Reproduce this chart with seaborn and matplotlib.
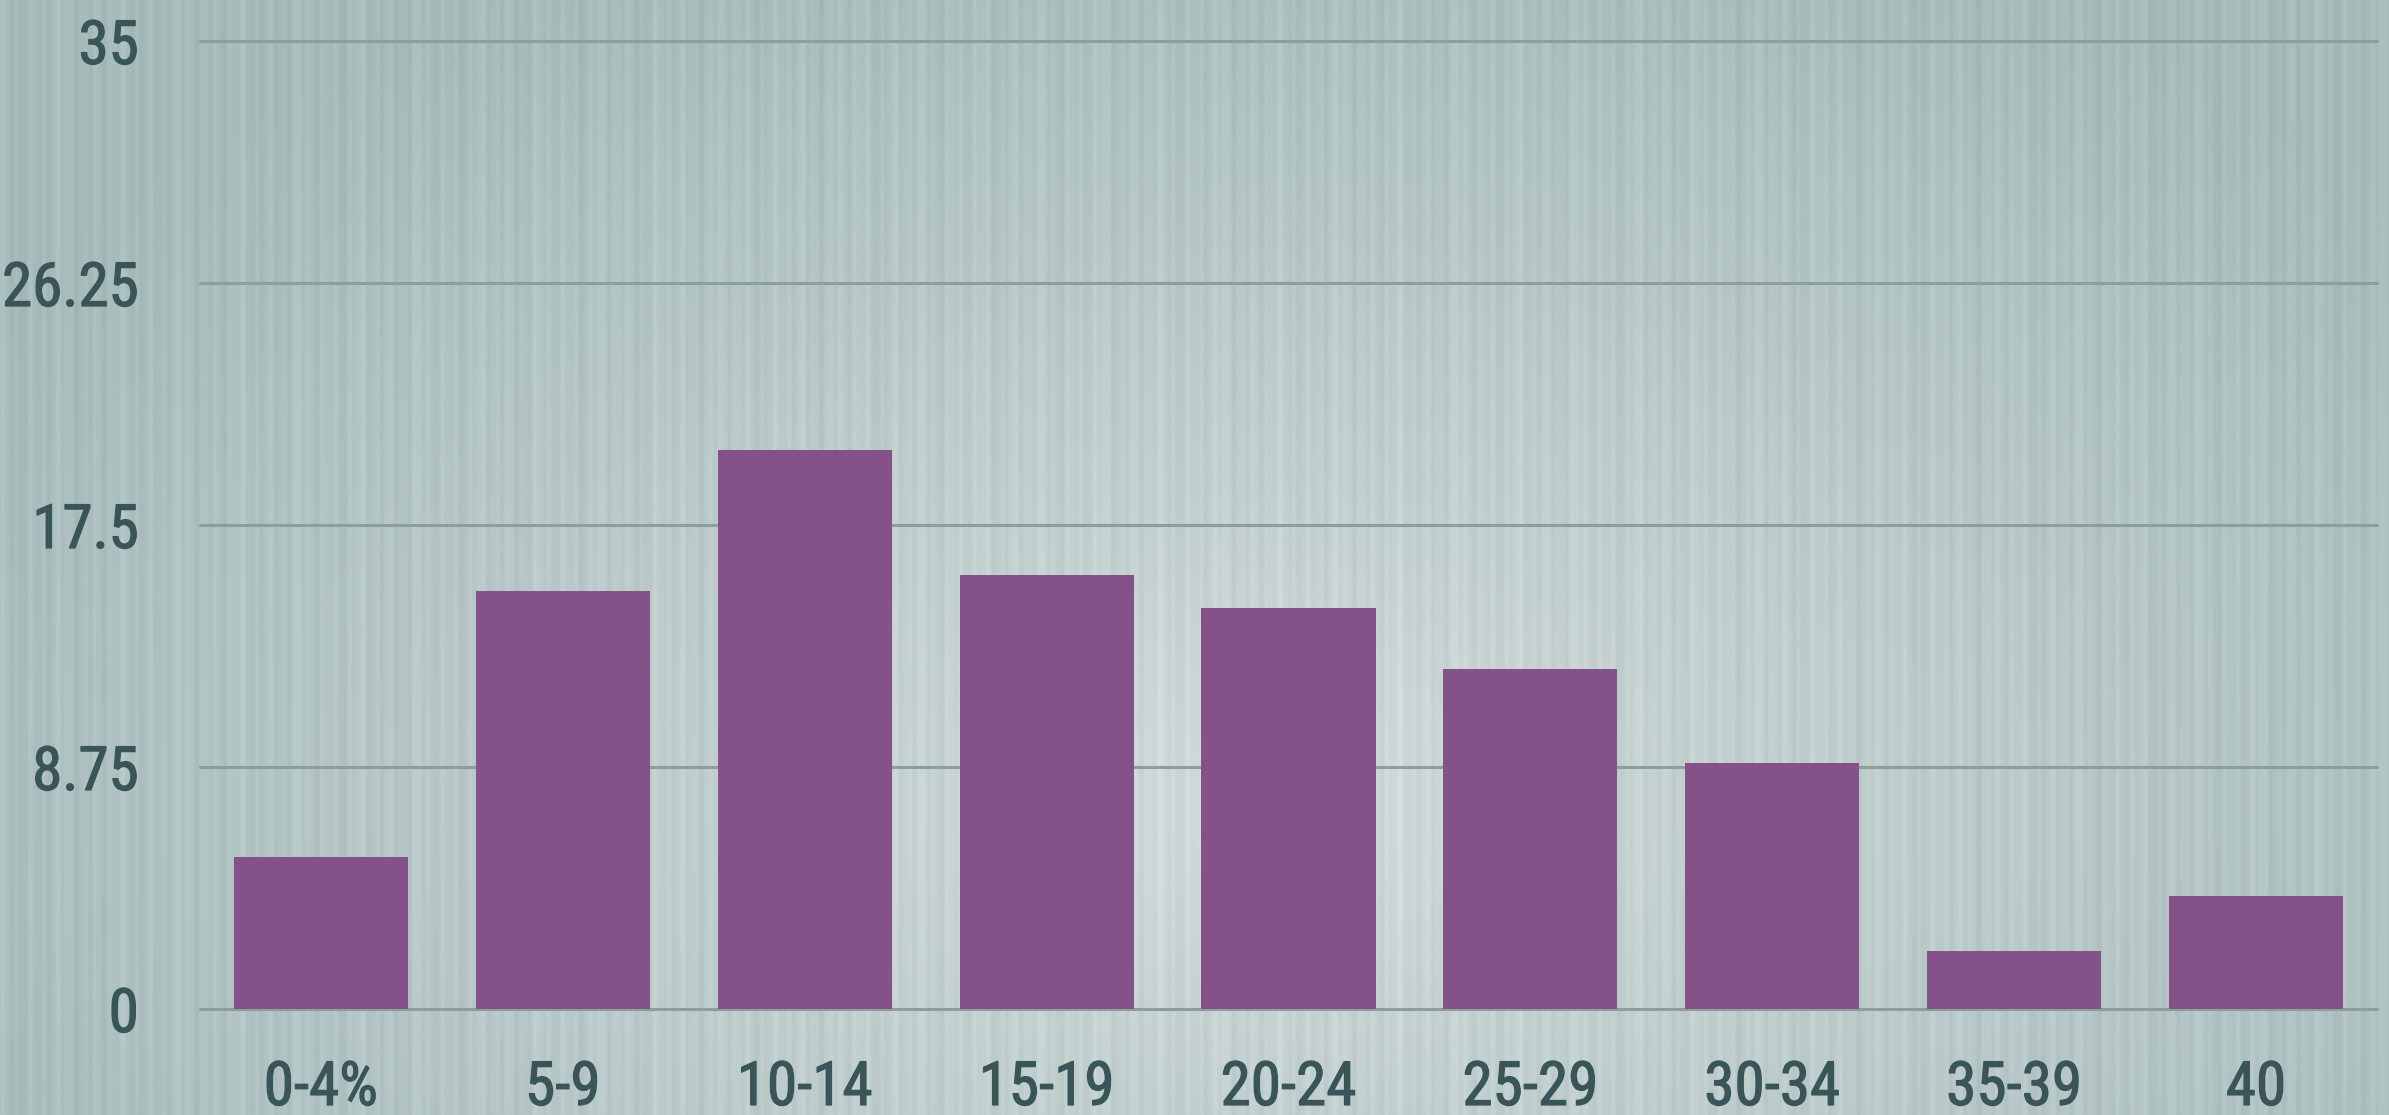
import os
import numpy as np
import pandas as pd
import matplotlib
matplotlib.use("Agg")
import matplotlib.pyplot as plt
from matplotlib import font_manager
import matplotlib.patheffects as pe
import seaborn as sns

# Share of respondents per range
categories = ["0-4%", "5-9", "10-14", "15-19", "20-24", "25-29", "30-34", "35-39", "40"]
values = [5.5, 15.1, 20.2, 15.7, 14.5, 12.3, 8.9, 2.1, 4.1]
y_ticks = [0, 8.75, 17.5, 26.25, 35]
y_tick_labels = ["0", "8.75", "17.5", "26.25", "35"]

BAR_COLOR = "#845189"
TEXT_COLOR = "#3a5558"
GRID_COLOR = "#8c9f9d"

sns.set_theme(style="white")
plt.rcParams["font.family"] = ["DejaVu Sans"]


def pick_condensed_font():
    """Return the path of the narrowest suitable sans face available."""
    prefs = ["NotoSans-ExtraCondensed.", "NotoSans-ExtraCondensedRegular.",
             "RobotoCondensed-Regular.", "NotoSans-Condensed.",
             "LiberationSansNarrow-Regular.", "DejaVuSansCondensed."]
    files = [f.fname for f in font_manager.fontManager.ttflist]
    for p in prefs:
        for fn in files:
            if os.path.basename(fn).startswith(p):
                return fn
    return None


font_path = pick_condensed_font()

W, H = 2389, 1115
fig = plt.figure(figsize=(W / 100, H / 100), dpi=100)

# Brushed, softly lit backdrop: radial light with vertical streaks
bg_ax = fig.add_axes([0, 0, 1, 1], zorder=-10)
xs = np.linspace(0, 1, W)
ys = np.linspace(0, 1, H)
X, Y = np.meshgrid(xs, ys)
d = np.sqrt(((X - 0.53) / 0.62) ** 2 + ((Y - 0.72) / 0.85) ** 2)
light = np.clip(1 - d, 0, 1) ** 1.1
edge = np.array([167, 187, 187]) / 255.0
center = np.array([210, 219, 219]) / 255.0
img = edge[None, None, :] + (center - edge)[None, None, :] * light[..., None]
px = np.arange(W)
streak = (0.5 * np.sin(px * 2 * np.pi / 13.3) + 0.35 * np.sin(px * 2 * np.pi / 29.7 + 1.1)
          + 0.25 * np.sin(px * 2 * np.pi / 7.1 + 0.4) + 0.2 * np.sin(px * 2 * np.pi / 61.0 + 2.0))
streak = streak / np.abs(streak).max() * 0.035
img = np.clip(img + streak[None, :, None], 0, 1)
bg_ax.imshow(img, aspect="auto", extent=(0, 1, 0, 1), origin="upper")
bg_ax.set_axis_off()

ax = fig.add_axes([200 / W, 1 - 1009 / H, (2377 - 200) / W, (1009 - 41) / H])
ax.patch.set_alpha(0)

df = pd.DataFrame({"range": categories, "value": values})
sns.barplot(data=df, x="range", y="value", color=BAR_COLOR, saturation=1,
            width=0.72, ax=ax, zorder=3, linewidth=0)

for t in y_ticks:
    ax.axhline(t, color=GRID_COLOR, linewidth=2.2, zorder=1, clip_on=False)

ax.set_xlim(-0.5, len(categories) - 0.5)
ax.set_ylim(0, 35)
ax.set_yticks(y_ticks)
ax.set_yticklabels(y_tick_labels)
ax.set_xlabel("")
ax.set_ylabel("")
for s in ax.spines.values():
    s.set_visible(False)
ax.tick_params(axis="both", length=0, labelcolor=TEXT_COLOR)
ax.tick_params(axis="y", pad=44)
ax.tick_params(axis="x", pad=36)

if font_path:
    fp = font_manager.FontProperties(fname=font_path, size=44)
else:
    fp = font_manager.FontProperties(family="DejaVu Sans", stretch="condensed", size=38)
for lab in ax.get_xticklabels() + ax.get_yticklabels():
    lab.set_fontproperties(fp)
    lab.set_color(TEXT_COLOR)
    lab.set_path_effects([pe.withStroke(linewidth=0.9, foreground=TEXT_COLOR)])

fig.savefig("out.png", dpi=100)
